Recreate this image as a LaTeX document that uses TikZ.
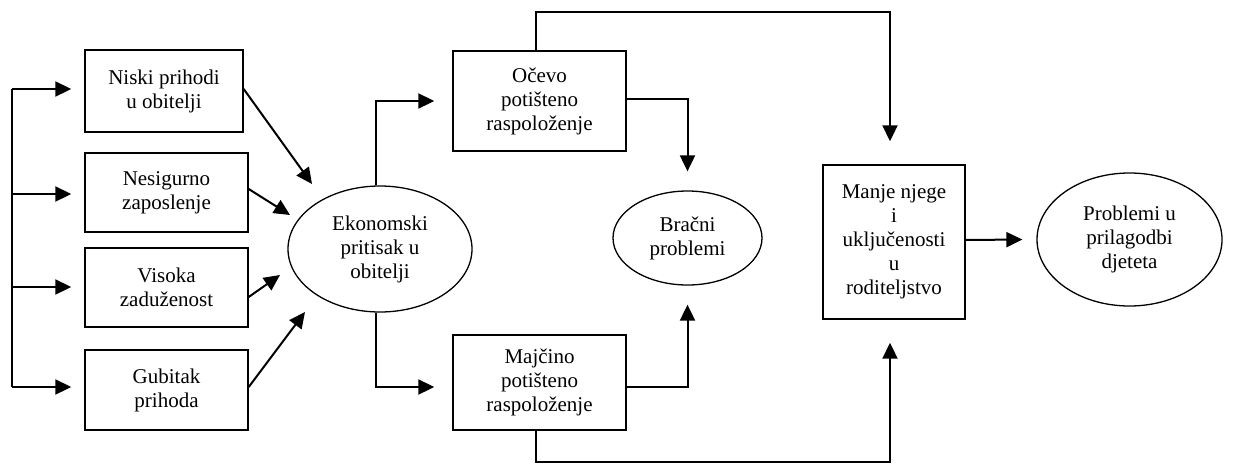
\documentclass[tikz,border=0pt]{standalone}
\usepackage{fontspec}
\setmainfont{Liberation Serif}
\usetikzlibrary{arrows.meta,shapes.geometric}
\begin{document}
\begin{tikzpicture}[x=1pt,y=-1pt,
  every node/.style={font=\fontsize{21}{24}\selectfont, align=center, inner sep=0pt},
  boxn/.style={draw, line width=1.4pt, rectangle},
  ell/.style={draw, line width=1.3pt, ellipse},
  arr/.style={line width=2pt, -{Triangle[length=16pt,width=15pt]}},
  ln/.style={line width=2pt}]
\fill[white] (0,0) rectangle (1260,464);
\useasboundingbox (0,0) rectangle (1260,464);
% nodes
\node[boxn, minimum width=158pt, minimum height=82pt] (b1) at (164,91) {Niski prihodi\\u obitelji};
\node[boxn, minimum width=163pt, minimum height=79pt] (b2) at (166.5,192.5) {Nesigurno\\zaposlenje};
\node[boxn, minimum width=163pt, minimum height=79pt] (b3) at (166.5,287.5) {Visoka\\zaduženost};
\node[boxn, minimum width=163pt, minimum height=80pt] (b4) at (166.5,390) {Gubitak\\prihoda};
\node[ell, minimum width=184pt, minimum height=126pt] (eko) at (380,249) {Ekonomski\\pritisak u\\obitelji};
\node[boxn, minimum width=173pt, minimum height=100pt] (oc) at (539.5,101) {Očevo\\potišteno\\raspoloženje};
\node[boxn, minimum width=173pt, minimum height=95pt] (ma) at (539.5,382.5) {Majčino\\potišteno\\raspoloženje};
\node[ell, minimum width=149pt, minimum height=94pt] (br) at (687.5,238) {Bračni\\problemi};
\node[boxn, minimum width=142pt, minimum height=154pt] (mn) at (894,242) {Manje njege\\i\\uključenosti\\u\\roditeljstvo};
\node[ell, minimum width=185pt, minimum height=133pt] (pr) at (1129.5,239.5) {Problemi u\\prilagodbi\\djeteta};
% left bracket
\coordinate (s1) at (12,89);
\coordinate (s2) at (12,194);
\coordinate (s3) at (12,287);
\coordinate (s4) at (12,387);
\draw[ln] (s1) -- (s4);
\draw[arr] (s1) -- ([xshift=-13pt]b1.west |- s1);
\draw[arr] (s2) -- ([xshift=-13pt]b2.west |- s2);
\draw[arr] (s3) -- ([xshift=-13pt]b3.west |- s3);
\draw[arr] (s4) -- ([xshift=-13pt]b4.west |- s4);
% boxes to ellipse
\coordinate (t1) at (312,184);
\coordinate (t2) at (290,215);
\coordinate (t3) at (280,275);
\coordinate (t4) at (305,312);
\draw[arr] ([yshift=2pt]b1.east) -- (t1);
\draw[arr] ([yshift=3.5pt]b2.east) -- (t2);
\draw[arr] ([yshift=-9.5pt]b3.east) -- (t3);
\draw[arr] ([yshift=3pt]b4.east) -- (t4);
% ekonomski to parents
\draw[arr] ([xshift=-4pt]eko.north) |- ([xshift=-18pt]oc.west);
\draw[arr] ([xshift=-4pt]eko.south) |- ([xshift=-18pt,yshift=-4.5pt]ma.west);
% parents to marital
\draw[arr] ([yshift=2pt]oc.east) -| ([yshift=19pt]br.north);
\draw[arr] ([yshift=-4.5pt]ma.east) -| ([yshift=-19pt]br.south);
% parents to parenting
\coordinate (topc) at (536,12);
\coordinate (botc) at (536,462);
\draw[arr] ([xshift=-3.5pt]oc.north) -- (topc) -| ([xshift=-4pt,yshift=23pt]mn.north);
\draw[arr] ([xshift=-3.5pt]ma.south) -- (botc) -| ([xshift=-4pt,yshift=-23pt]mn.south);
% parenting to child
\draw[arr] ([yshift=2pt]mn.east) -- ([xshift=-14pt]pr.west);
\end{tikzpicture}
\end{document}
